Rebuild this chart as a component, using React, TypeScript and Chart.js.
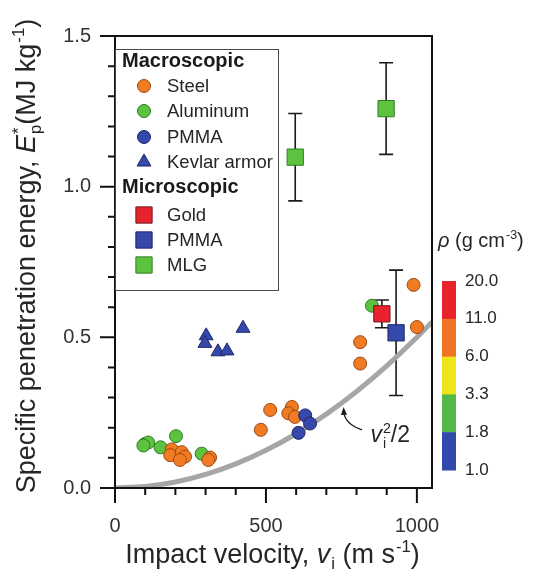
import React, { useEffect, useRef } from 'react';
import { Chart, registerables } from 'chart.js';
Chart.register(...registerables);

// ---------- data ----------
const steelV = [188, 183, 221, 232, 215, 315, 309, 483, 514, 586, 574, 596, 989, 1000, 812, 812];
const steelE = [0.128, 0.109, 0.119, 0.104, 0.093, 0.101, 0.093, 0.193, 0.259, 0.269, 0.248, 0.236, 0.674, 0.534, 0.484, 0.413];

const aluV = [99, 110, 94, 151, 202, 287, 851];
const aluE = [0.146, 0.151, 0.141, 0.135, 0.172, 0.114, 0.605];

const pmmaV = [630, 646, 608];
const pmmaE = [0.241, 0.214, 0.183];

const kevlarV = [302, 298, 341, 371, 424];
const kevlarE = [0.505, 0.48, 0.452, 0.455, 0.53];

const goldV = [884];
const goldE = [0.578];
const goldErr = [0.046];

const pmmaMicroV = [931];
const pmmaMicroE = [0.515];
const pmmaMicroErr = [0.208];

const mlgV = [597, 898];
const mlgE = [1.098, 1.259];
const mlgErr = [0.145, 0.152];

const curveV = [0, 100, 200, 300, 400, 500, 600, 700, 800, 900, 1000, 1050];
const curveE = [0, 0.005, 0.02, 0.045, 0.08, 0.125, 0.18, 0.245, 0.32, 0.405, 0.5, 0.551];

const xMajorTicks = [0, 500, 1000];
const yMajorTicks = [0, 0.5, 1.0, 1.5];

const densityLabels = ['20.0', '11.0', '6.0', '3.3', '1.8', '1.0'];
const densityColors = ['#e8232b', '#f07223', '#efe51c', '#52b847', '#3348ad'];

const annotTipV = 757, annotTipE = 0.269;
const annotStartV = 818, annotStartE = 0.193;
const annotTextV = 846, annotTextE = 0.151;

// ---------- styles ----------
const FONT = '"Liberation Sans", Arial, Helvetica, sans-serif';
const TEXT = '#262626';
const ORANGE = '#f07b22', ORANGE_B = '#9c4a12';
const GREEN = '#5cc23f', GREEN_B = '#2f7d24';
const BLUE = '#3649aa', BLUE_B = '#1c2768';
const RED = '#e8232e', RED_B = '#6e1a1a';

type Part = { t?: string; it?: boolean; sub?: string; sup?: string; bold?: boolean };

function fontStr(size: number, it?: boolean, bold?: boolean) {
  return `${it ? 'italic ' : ''}${bold ? 'bold ' : ''}${size}px ${FONT}`;
}

function partWidth(ctx: CanvasRenderingContext2D, p: Part, size: number) {
  let w = 0;
  if (p.t) { ctx.font = fontStr(size, p.it, p.bold); w += ctx.measureText(p.t).width; }
  let sw = 0;
  const s = size * 0.62;
  if (p.sub) { ctx.font = fontStr(s, false); sw = Math.max(sw, ctx.measureText(p.sub).width + 1); }
  if (p.sup) { ctx.font = fontStr(s, false); sw = Math.max(sw, ctx.measureText(p.sup).width + 1); }
  return w + sw;
}

function drawRich(ctx: CanvasRenderingContext2D, x: number, y: number, parts: Part[], size: number, align: 'left' | 'center' = 'left') {
  let total = 0;
  for (const p of parts) total += partWidth(ctx, p, size);
  let cx = align === 'center' ? x - total / 2 : x;
  ctx.textAlign = 'left';
  ctx.textBaseline = 'alphabetic';
  for (const p of parts) {
    if (p.t) {
      ctx.font = fontStr(size, p.it, p.bold);
      ctx.fillText(p.t, cx, y);
      cx += ctx.measureText(p.t).width;
    }
    const s = size * 0.62;
    let sw = 0;
    ctx.font = fontStr(s, false);
    if (p.sub) { ctx.fillText(p.sub, cx + 1, y + size * 0.22); sw = Math.max(sw, ctx.measureText(p.sub).width + 1); }
    if (p.sup) { ctx.fillText(p.sup, cx + 1, y - size * 0.42); sw = Math.max(sw, ctx.measureText(p.sup).width + 1); }
    cx += sw;
  }
}

function drawMarker(ctx: CanvasRenderingContext2D, style: string, x: number, y: number, r: number, fill: string, stroke: string) {
  ctx.beginPath();
  if (style === 'circle') {
    ctx.arc(x, y, r, 0, Math.PI * 2);
  } else if (style === 'rect') {
    const s = r * Math.SQRT1_2;
    ctx.rect(x - s, y - s, 2 * s, 2 * s);
  } else {
    ctx.moveTo(x, y - r);
    ctx.lineTo(x + r * Math.sin(2 * Math.PI / 3), y - r * Math.cos(2 * Math.PI / 3));
    ctx.lineTo(x + r * Math.sin(4 * Math.PI / 3), y - r * Math.cos(4 * Math.PI / 3));
    ctx.closePath();
  }
  ctx.fillStyle = fill;
  ctx.fill();
  ctx.lineWidth = 1;
  ctx.strokeStyle = stroke;
  ctx.stroke();
}

const errorBarPlugin = {
  id: 'errorBars',
  beforeDatasetsDraw(chart: any) {
    const ctx = chart.ctx as CanvasRenderingContext2D;
    const ys = chart.scales.y;
    chart.data.datasets.forEach((ds: any, i: number) => {
      if (!ds.errors) return;
      const meta = chart.getDatasetMeta(i);
      meta.data.forEach((pt: any, j: number) => {
        const v = ds.data[j].y;
        const e = ds.errors[j];
        const top = ys.getPixelForValue(v + e);
        const bot = ys.getPixelForValue(v - e);
        ctx.save();
        ctx.strokeStyle = '#1a1a1a';
        ctx.lineWidth = 1.6;
        ctx.beginPath();
        ctx.moveTo(pt.x, top); ctx.lineTo(pt.x, bot);
        ctx.moveTo(pt.x - 7, top); ctx.lineTo(pt.x + 7, top);
        ctx.moveTo(pt.x - 7, bot); ctx.lineTo(pt.x + 7, bot);
        ctx.stroke();
        ctx.restore();
      });
    });
  },
};

const decorPlugin = {
  id: 'decor',
  afterDraw(chart: any) {
    const ctx = chart.ctx as CanvasRenderingContext2D;
    const { left, right, top, bottom } = chart.chartArea;
    const xs = chart.scales.x, ys = chart.scales.y;
    ctx.save();
    // frame
    ctx.strokeStyle = '#111';
    ctx.lineWidth = 2;
    ctx.strokeRect(left, top, right - left, bottom - top);
    // ticks
    ctx.lineWidth = 2;
    ctx.beginPath();
    xs.ticks.forEach((t: any) => {
      const px = xs.getPixelForValue(t.value);
      const major = xMajorTicks.some((m) => Math.abs(m - t.value) < 1e-6);
      ctx.moveTo(px, bottom); ctx.lineTo(px, bottom + (major ? 15 : 7));
    });
    ys.ticks.forEach((t: any) => {
      const py = ys.getPixelForValue(t.value);
      const major = yMajorTicks.some((m) => Math.abs(m - t.value) < 1e-6);
      ctx.moveTo(left, py); ctx.lineTo(left - (major ? 15 : 7), py);
    });
    ctx.stroke();

    // axis titles
    ctx.fillStyle = TEXT;
    drawRich(ctx, (left + right) / 2 - 1, 563, [
      { t: 'Impact velocity, ' }, { t: 'v', it: true, sub: 'i' }, { t: ' (m s', sup: '-1' }, { t: ')' },
    ], 27, 'center');
    ctx.save();
    ctx.translate(35, (top + bottom) / 2 - 6);
    ctx.rotate(-Math.PI / 2);
    drawRich(ctx, 0, 0, [
      { t: 'Specific penetration energy, ' }, { t: 'E', it: true, sub: 'p', sup: '*' }, { t: '(MJ kg', sup: '-1' }, { t: ')' },
    ], 27, 'center');
    ctx.restore();

    // legend box
    const lx0 = left, lx1 = 278, ly0 = 49, ly1 = 290;
    ctx.fillStyle = '#ffffff';
    ctx.fillRect(lx0, ly0, lx1 - lx0, ly1 - ly0);
    ctx.strokeStyle = '#4a4a4a';
    ctx.lineWidth = 1;
    ctx.strokeRect(lx0 + 0.5, ly0 + 0.5, lx1 - lx0, ly1 - ly0);
    ctx.fillStyle = '#1a1a1a';
    ctx.textBaseline = 'middle';
    ctx.textAlign = 'left';
    ctx.font = `bold 20px ${FONT}`;
    ctx.fillText('Macroscopic', 122, 61);
    ctx.fillText('Microscopic', 122, 187);
    const items = [
      { label: 'Steel', y: 86, st: 'circle', r: 6.5, f: ORANGE, b: ORANGE_B },
      { label: 'Aluminum', y: 111, st: 'circle', r: 6.5, f: GREEN, b: GREEN_B },
      { label: 'PMMA', y: 137, st: 'circle', r: 6.5, f: BLUE, b: BLUE_B },
      { label: 'Kevlar armor', y: 162, st: 'triangle', r: 8, f: BLUE, b: BLUE_B },
      { label: 'Gold', y: 215, st: 'rect', r: 11.5, f: RED, b: RED_B },
      { label: 'PMMA', y: 240, st: 'rect', r: 11.5, f: BLUE, b: BLUE_B },
      { label: 'MLG', y: 265, st: 'rect', r: 11.5, f: GREEN, b: GREEN_B },
    ];
    items.forEach((it) => {
      drawMarker(ctx, it.st, 144, it.y, it.r, it.f, it.b);
      ctx.fillStyle = TEXT;
      ctx.font = `18.5px ${FONT}`;
      ctx.textBaseline = 'middle';
      ctx.fillText(it.label, 167, it.y + 1);
    });

    // colour bar
    const cbX = 442, cbW = 14, cbTop = 281, cbBot = 470;
    const seg = (cbBot - cbTop) / densityColors.length;
    densityColors.forEach((c, i) => {
      ctx.fillStyle = c;
      ctx.fillRect(cbX, cbTop + i * seg, cbW, seg + 0.5);
    });
    ctx.fillStyle = TEXT;
    ctx.font = `17px ${FONT}`;
    ctx.textBaseline = 'middle';
    densityLabels.forEach((l, i) => {
      ctx.fillText(l, 465, cbTop + i * seg);
    });
    drawRich(ctx, 438, 247, [{ t: 'ρ', it: true }, { t: ' (g cm', sup: '-3' }, { t: ')' }], 20, 'left');

    // v_i^2/2 annotation
    const tx = xs.getPixelForValue(annotTipV), ty = ys.getPixelForValue(annotTipE);
    const sx = xs.getPixelForValue(annotStartV), sy = ys.getPixelForValue(annotStartE);
    const cx = tx + 1, cy = sy - 6;
    ctx.strokeStyle = '#1a1a1a';
    ctx.lineWidth = 1.3;
    ctx.beginPath();
    ctx.moveTo(sx, sy);
    ctx.quadraticCurveTo(cx, cy, tx, ty + 4);
    ctx.stroke();
    const ang = Math.atan2(ty - cy, tx - cx);
    ctx.fillStyle = '#1a1a1a';
    ctx.beginPath();
    ctx.moveTo(tx, ty);
    ctx.lineTo(tx - 8 * Math.cos(ang) + 3 * Math.sin(ang), ty - 8 * Math.sin(ang) - 3 * Math.cos(ang));
    ctx.lineTo(tx - 8 * Math.cos(ang) - 3 * Math.sin(ang), ty - 8 * Math.sin(ang) + 3 * Math.cos(ang));
    ctx.closePath();
    ctx.fill();
    ctx.fillStyle = TEXT;
    drawRich(ctx, xs.getPixelForValue(annotTextV), ys.getPixelForValue(annotTextE),
      [{ t: 'v', it: true, sub: 'i', sup: '2' }, { t: '/2' }], 23, 'left');

    ctx.restore();
  },
};

function pts(xv: number[], yv: number[]) {
  return xv.map((x, i) => ({ x, y: yv[i] }));
}

export default function App() {
  const ref = useRef<HTMLCanvasElement | null>(null);
  useEffect(() => {
    if (!ref.current) return;
    const chart = new Chart(ref.current, {
      type: 'scatter',
      data: {
        datasets: [
          { label: 'MLG', data: pts(mlgV, mlgE), errors: mlgErr, pointStyle: 'rect', pointRadius: 11.5, backgroundColor: GREEN, borderColor: GREEN_B, borderWidth: 1 } as any,
          { label: 'PMMA (micro)', data: pts(pmmaMicroV, pmmaMicroE), errors: pmmaMicroErr, pointStyle: 'rect', pointRadius: 11.5, backgroundColor: BLUE, borderColor: BLUE_B, borderWidth: 1 } as any,
          { label: 'Gold', data: pts(goldV, goldE), errors: goldErr, pointStyle: 'rect', pointRadius: 11.5, backgroundColor: RED, borderColor: RED_B, borderWidth: 1 } as any,
          { label: 'Kevlar armor', data: pts(kevlarV, kevlarE), pointStyle: 'triangle', pointRadius: 8, backgroundColor: BLUE, borderColor: BLUE_B, borderWidth: 1 },
          { label: 'PMMA', data: pts(pmmaV, pmmaE), pointStyle: 'circle', pointRadius: 6.5, backgroundColor: BLUE, borderColor: BLUE_B, borderWidth: 1 },
          { label: 'Steel', data: pts(steelV, steelE), pointStyle: 'circle', pointRadius: 6.5, backgroundColor: ORANGE, borderColor: ORANGE_B, borderWidth: 1 },
          { label: 'Aluminum', data: pts(aluV, aluE), pointStyle: 'circle', pointRadius: 6.5, backgroundColor: GREEN, borderColor: GREEN_B, borderWidth: 1 },
          {
            type: 'line', label: 'v^2/2', data: pts(curveV, curveE), showLine: true, pointRadius: 0,
            borderColor: '#a6a6a6', borderWidth: 5, cubicInterpolationMode: 'monotone', fill: false,
          } as any,
        ],
      },
      options: {
        responsive: false,
        animation: false,
        layout: { padding: { left: 0, right: 102, top: 14, bottom: 0 } },
        plugins: { legend: { display: false }, tooltip: { enabled: false } },
        scales: {
          x: {
            type: 'linear', min: 0, max: 1050,
            afterFit: (s: any) => { s.height = 89; },
            grid: { display: false, drawTicks: false },
            border: { display: false },
            ticks: {
              stepSize: 100, includeBounds: false, autoSkip: false, maxRotation: 0, padding: 26,
              color: '#333', font: { family: FONT, size: 20 },
              callback: (v: any) => (xMajorTicks.includes(Math.round(Number(v))) ? String(Math.round(Number(v))) : ''),
            },
          },
          y: {
            type: 'linear', min: 0, max: 1.5,
            afterFit: (s: any) => { s.width = 115; },
            grid: { display: false, drawTicks: false },
            border: { display: false },
            ticks: {
              stepSize: 0.1, autoSkip: false, padding: 24,
              color: '#333', font: { family: FONT, size: 20 },
              callback: (v: any) => {
                const n = Math.round(Number(v) * 10) / 10;
                return yMajorTicks.some((m) => Math.abs(m - n) < 1e-6) ? n.toFixed(1) : '';
              },
            },
          },
        },
      },
      plugins: [errorBarPlugin, decorPlugin],
    } as any);
    return () => chart.destroy();
  }, []);
  return (
    <div style={{ position: 'fixed', left: 0, top: 0, width: 534, height: 577, background: '#fff' }}>
      <canvas ref={ref} width={534} height={577} style={{ display: 'block' }} />
    </div>
  );
}
